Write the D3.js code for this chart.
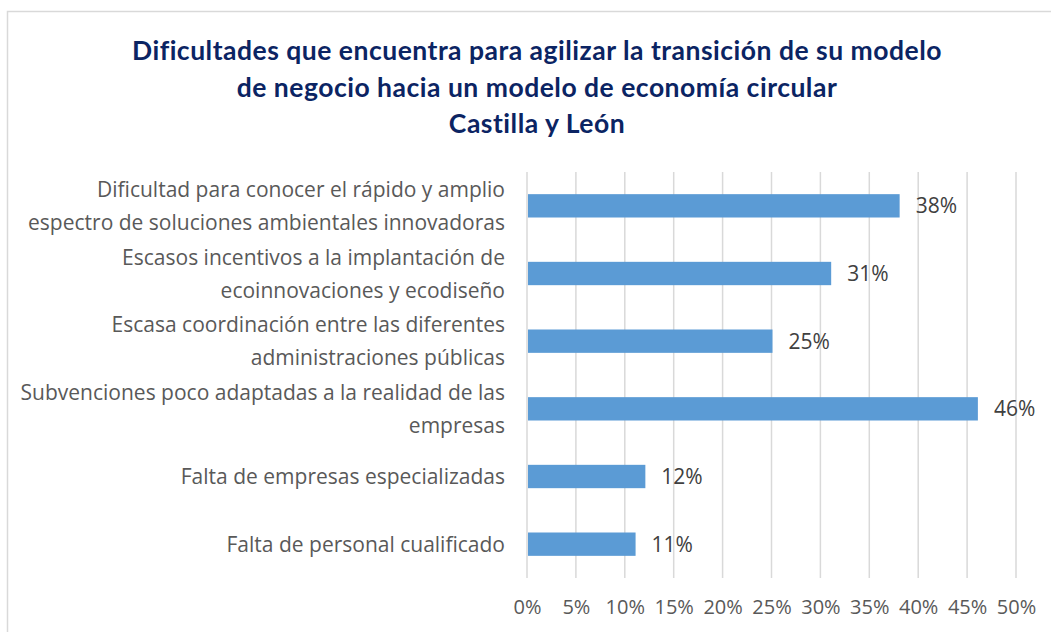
<!DOCTYPE html>
<html>
<head>
<meta charset="utf-8">
<script src="https://cdn.jsdelivr.net/npm/d3@7"></script>
<style>
  html, body { margin: 0; padding: 0; background: #fff; }
  svg { display: block; }
</style>
</head>
<body>
<svg id="chart" width="1051" height="632"></svg>
<script>
// Chart data
const titleLines = [
  "Dificultades que encuentra para agilizar la transición de su modelo",
  "de negocio hacia un modelo de economía circular",
  "Castilla y León"
];
const categories = [
  "Dificultad para conocer el rápido y amplio\nespectro de soluciones ambientales innovadoras",
  "Escasos incentivos a la implantación de\necoinnovaciones y ecodiseño",
  "Escasa coordinación entre las diferentes\nadministraciones públicas",
  "Subvenciones poco adaptadas a la realidad de las\nempresas",
  "Falta de empresas especializadas",
  "Falta de personal cualificado"
];
const values = [38, 31, 25, 46, 12, 11];
const tickValues = [0, 5, 10, 15, 20, 25, 30, 35, 40, 45, 50];

const svg = d3.select("#chart");
const W = 1051, H = 632;
const margin = { top: 172, right: 35, bottom: 54, left: 527 };
const plotW = 489;
const plotH = H - margin.top - margin.bottom;

const textFont = "'Open Sans', Lato, sans-serif";
const titleFont = "Lato, 'Open Sans', sans-serif";

// Outer chart border
svg.append("rect")
  .attr("x", 7.5).attr("y", 11.5)
  .attr("width", W + 10).attr("height", H + 10)
  .attr("fill", "#fff")
  .attr("stroke", "#d9d9d9")
  .attr("stroke-width", 1.5);

// Title
const title = svg.append("text")
  .attr("text-anchor", "middle")
  .attr("font-family", titleFont)
  .attr("font-weight", "bold")
  .attr("font-size", 26.5)
  .attr("letter-spacing", 0.5)
  .attr("fill", "#0b2463");
titleLines.forEach((t, i) => {
  title.append("tspan").attr("x", 537).attr("y", 60 + i * 36.5).text(t);
});

const g = svg.append("g").attr("transform", `translate(${margin.left},${margin.top})`);

const x = d3.scaleLinear().domain([0, 50]).range([0, plotW]);
const y = d3.scaleBand().domain(categories).range([0, plotH]).paddingInner(0.655).paddingOuter(0.3275);

// Vertical gridlines
g.append("g")
  .selectAll("line")
  .data(tickValues)
  .join("line")
  .attr("x1", d => x(d)).attr("x2", d => x(d))
  .attr("y1", 0).attr("y2", plotH)
  .attr("stroke", "#d9d9d9")
  .attr("stroke-width", 1.5);

// Bars
g.append("g")
  .selectAll("rect")
  .data(values)
  .join("rect")
  .attr("x", x(0) + 1)
  .attr("y", (d, i) => y(categories[i]))
  .attr("width", d => x(d) - x(0))
  .attr("height", y.bandwidth())
  .attr("fill", "#5b9bd5");

// Value labels
g.append("g")
  .selectAll("text")
  .data(values)
  .join("text")
  .attr("x", d => x(d) + 17)
  .attr("y", (d, i) => y(categories[i]) + y.bandwidth() / 2)
  .attr("dy", "0.36em")
  .attr("font-family", textFont)
  .attr("font-size", 21)
  .attr("fill", "#404040")
  .text(d => d + "%");

// X axis tick labels
const xAxis = d3.axisBottom(x)
  .tickValues(tickValues)
  .tickFormat(d => d + "%")
  .tickSize(0)
  .tickPadding(22);
const ax = g.append("g").attr("transform", `translate(0,${plotH})`).call(xAxis);
ax.select(".domain").remove();
ax.selectAll("text")
  .attr("font-family", textFont)
  .attr("font-size", 20)
  .attr("fill", "#595959");

// Category labels
g.append("g")
  .selectAll("text")
  .data(categories)
  .join("text")
  .attr("text-anchor", "end")
  .attr("font-family", textFont)
  .attr("font-size", 21)
  .attr("fill", "#595959")
  .each(function (d) {
    const lines = d.split("\n");
    const cy = y(d) + y.bandwidth() / 2;
    const lh = 33;
    const sel = d3.select(this);
    lines.forEach((ln, i) => {
      sel.append("tspan")
        .attr("x", -22)
        .attr("y", cy + (i - (lines.length - 1) / 2) * lh)
        .attr("dy", "0.36em")
        .text(ln);
    });
  });
</script>
</body>
</html>
